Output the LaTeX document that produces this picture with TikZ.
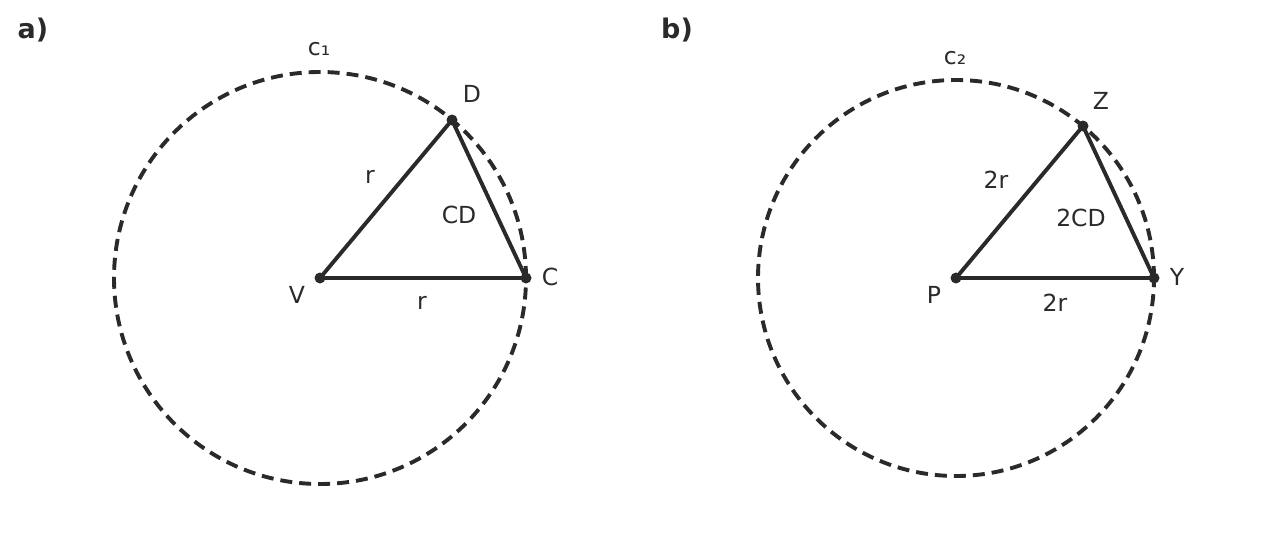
\documentclass[tikz,border=0pt]{standalone}
\usepackage{fontspec}
\setmainfont{DejaVu Sans}
\usetikzlibrary{positioning}
\definecolor{ink}{RGB}{42,42,42}

\begin{document}
\begin{tikzpicture}[x=1pt,y=-1pt,ink,line width=3.9pt,line join=round,
    dot/.style={circle,fill=ink,inner sep=0pt,minimum size=11pt},
    lbl/.style={text=ink,inner sep=0pt,font=\fontsize{23.5}{28}\selectfont},
    tag/.style={text=ink,inner sep=0pt,font=\fontsize{27}{32}\selectfont\bfseries},
    rim/.style={dash pattern=on 12pt off 7pt}]
            \useasboundingbox (0,0) rectangle (1261,557);
            % a)
            \node[tag]  (a)  at (33,30)   {a)};
            \coordinate (V) at (320,278);
            \coordinate (C) at (526,278);
            \coordinate (D) at (452,120);
            \draw[rim] (V) circle (206pt);
            \draw (V) -- (D) -- (C) -- cycle;
            \foreach \p in {V,C,D} \node[dot] at (\p) {};
            \node[lbl]  (c_1) at (319,49)  {c₁};
            \node[lbl]  (l_D) at (472,94)  {D};
            \node[lbl]  (l_V) at (297,295) {V};
            \node[lbl]  (l_C) at (550,277) {C};
            \node[lbl]  (r_1) at (370,177) {r};
            \node[lbl]  (r_2) at (422,303) {r};
            \node[lbl]  (cd)  at (459,215) {CD};
            % b)
            \node[tag]  (b)  at (677,30)   {b)};
            \coordinate (P) at (956,278);
            \coordinate (Y) at (1154,278);
            \coordinate (Z) at (1083,126);
            \draw[rim] (P) circle (198pt);
            \draw (P) -- (Z) -- (Y) -- cycle;
            \foreach \p in {P,Y,Z} \node[dot] at (\p) {};
            \node[lbl]  (c_2) at (955,58)   {c₂};
            \node[lbl]  (l_Z) at (1101,101) {Z};
            \node[lbl]  (l_P) at (934,295)  {P};
            \node[lbl]  (l_Y) at (1177,277) {Y};
            \node[lbl]  (s_1) at (996,180)  {2r};
            \node[lbl]  (s_2) at (1055,303) {2r};
            \node[lbl]  (cd2) at (1081,218) {2CD};
          \end{tikzpicture}
\end{document}
